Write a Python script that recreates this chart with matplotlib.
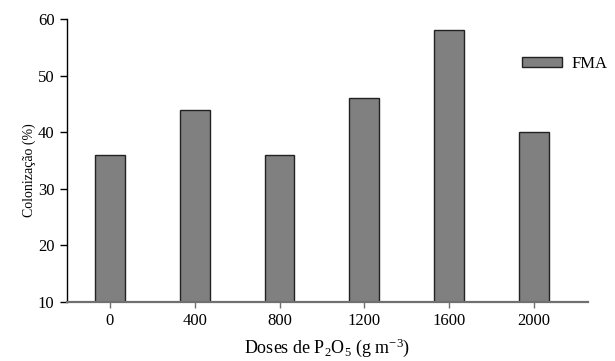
import matplotlib
matplotlib.use("Agg")
import matplotlib.pyplot as plt

plt.rcParams['font.family'] = ['Liberation Serif', 'DejaVu Serif']
plt.rcParams['mathtext.fontset'] = 'custom'
plt.rcParams['mathtext.rm'] = 'Liberation Serif'
plt.rcParams['mathtext.default'] = 'regular'

doses = [0, 400, 800, 1200, 1600, 2000]
colonizacao = [36, 44, 36, 46, 58, 40]
yticks = [10, 20, 30, 40, 50, 60]

fig = plt.figure(figsize=(6.15, 3.61), dpi=100)
ax = fig.add_axes([0.1089, 0.1634, 0.847, 0.784])

ax.bar(doses, [v - 10 for v in colonizacao], bottom=10, width=141,
       color='#808080', edgecolor='#222222', linewidth=1.0, label='FMA', zorder=2)

ax.set_xlim(-203, 2255)
ax.set_ylim(10, 60)
ax.set_xticks(doses)
ax.set_xticklabels([str(d) for d in doses])
ax.set_yticks(yticks)

for s in ['top', 'right']:
    ax.spines[s].set_visible(False)
ax.spines['left'].set_color('black')
ax.spines['left'].set_linewidth(1.0)
ax.spines['bottom'].set_color('#707070')
ax.spines['bottom'].set_linewidth(1.6)

ax.tick_params(axis='y', length=5, width=1, labelsize=12, pad=4)
ax.tick_params(axis='x', length=4, width=1, color='#707070', labelsize=12, pad=4)

ax.set_ylabel('Colonização (%)', fontsize=10)
ax.yaxis.set_label_coords(-0.06, 0.466)
ax.set_xlabel('Doses de P$_2$O$_5$ (g m$^{-3}$)', fontsize=13, labelpad=5)

fig.legend(*ax.get_legend_handles_labels(), loc='center left',
           bbox_to_anchor=(522 / 615, 1 - 63.5 / 361), frameon=False,
           fontsize=12, handlelength=2.4, handleheight=0.55, handletextpad=0.6,
           borderpad=0, borderaxespad=0)

fig.savefig('out.png', dpi=100)
